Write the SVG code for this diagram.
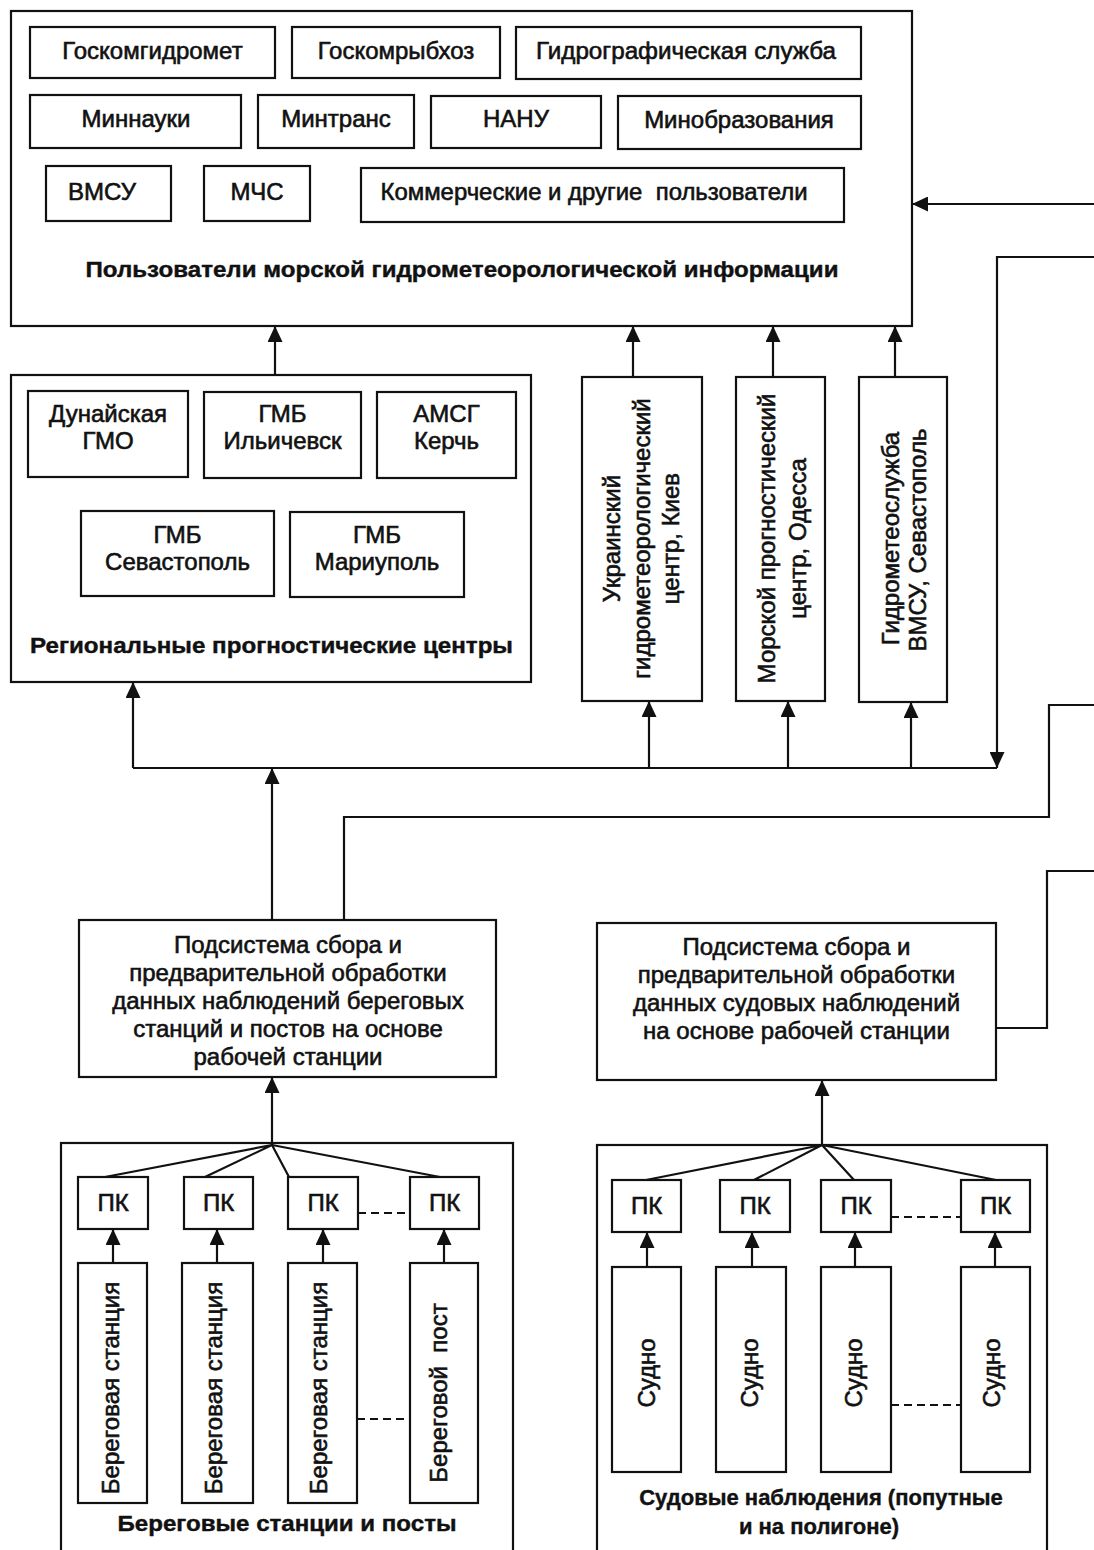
<svg xmlns="http://www.w3.org/2000/svg" width="1094" height="1550" viewBox="0 0 1094 1550">
<defs>
<marker id="ah" viewBox="0 0 16 15" refX="16" refY="7.5" markerWidth="16" markerHeight="15" orient="auto" markerUnits="userSpaceOnUse"><path d="M0,0 L16,7.5 L0,15 Z" fill="#111"/></marker>
<style>
.box{fill:#fff;stroke:#111;stroke-width:2.2}
.cont{fill:none;stroke:#111;stroke-width:2.2}
.ln{fill:none;stroke:#111;stroke-width:2.2}
.arr{marker-end:url(#ah)}
.dash{stroke-dasharray:8 5}
text{font-family:"Liberation Sans",Arial,"Noto Sans",sans-serif;font-size:24px;fill:#111;stroke:#111;stroke-width:0.6;text-anchor:middle}
.b{font-weight:bold;font-size:22px;stroke-width:0.4}
</style>
</defs>
<rect width="1094" height="1550" fill="#fff"/>

<g id="users">
<rect class="cont" x="11" y="11" width="901" height="315"/>
<text class="b" x="462" y="277" textLength="753" lengthAdjust="spacingAndGlyphs">Пользователи морской гидрометеорологической информации</text>
</g>
<g id="goskomgidromet"><rect class="box" x="30" y="27" width="245" height="51"/><text x="152.5" y="59">Госкомгидромет</text></g>
<g id="goskomrybkhoz"><rect class="box" x="292" y="27" width="208" height="51"/><text x="396" y="59">Госкомрыбхоз</text></g>
<g id="gidrograf"><rect class="box" x="516" y="27" width="345" height="52"/><text x="686" y="59" textLength="300" lengthAdjust="spacingAndGlyphs">Гидрографическая служба</text></g>
<g id="minnauki"><rect class="box" x="30" y="95" width="211" height="53"/><text x="136" y="127">Миннауки</text></g>
<g id="mintrans"><rect class="box" x="258" y="95" width="156" height="53"/><text x="336" y="127">Минтранс</text></g>
<g id="nanu"><rect class="box" x="431" y="96" width="170" height="52"/><text x="516" y="127">НАНУ</text></g>
<g id="minobr"><rect class="box" x="618" y="96" width="243" height="53"/><text x="739" y="128">Минобразования</text></g>
<g id="vmsu"><rect class="box" x="46" y="166" width="125" height="55"/><text x="102" y="200">ВМСУ</text></g>
<g id="mchs"><rect class="box" x="204" y="166" width="106" height="55"/><text x="257" y="200">МЧС</text></g>
<g id="commercial"><rect class="box" x="361" y="168" width="483" height="54"/><text x="594" y="200" xml:space="preserve" textLength="427" lengthAdjust="spacingAndGlyphs">Коммерческие и другие  пользователи</text></g>

<g id="regional">
<rect class="cont" x="11" y="375" width="520" height="307"/>
<text class="b" x="271.5" y="653" textLength="483" lengthAdjust="spacingAndGlyphs">Региональные прогностические центры</text>
</g>
<g id="dunai"><rect class="box" x="28" y="391" width="160" height="86"/><text x="108"><tspan x="108" y="422">Дунайская</tspan><tspan x="108" y="449">ГМО</tspan></text></g>
<g id="ilichevsk"><rect class="box" x="204" y="392" width="157" height="86"/><text x="282.5"><tspan x="282.5" y="422">ГМБ</tspan><tspan x="282.5" y="449">Ильичевск</tspan></text></g>
<g id="kerch"><rect class="box" x="377" y="392" width="139" height="86"/><text x="446.5"><tspan x="446.5" y="422">АМСГ</tspan><tspan x="446.5" y="449">Керчь</tspan></text></g>
<g id="sevastopol"><rect class="box" x="81" y="511" width="193" height="85"/><text x="177.5"><tspan x="177.5" y="543">ГМБ</tspan><tspan x="177.5" y="570">Севастополь</tspan></text></g>
<g id="mariupol"><rect class="box" x="290" y="512" width="174" height="85"/><text x="377"><tspan x="377" y="543">ГМБ</tspan><tspan x="377" y="570">Мариуполь</tspan></text></g>

<g id="ukr-center"><rect class="box" x="582" y="377" width="120" height="324"/>
<text transform="translate(620,538.5) rotate(-90)">Украинский</text>
<text transform="translate(650,538.5) rotate(-90)">гидрометеорологический</text>
<text transform="translate(679,538.5) rotate(-90)">центр, Киев</text></g>
<g id="odessa-center"><rect class="box" x="736" y="377" width="89" height="324"/>
<text transform="translate(774.5,538.5) rotate(-90)">Морской прогностический</text>
<text transform="translate(806,538.5) rotate(-90)">центр, Одесса</text></g>
<g id="vmsu-service"><rect class="box" x="859" y="377" width="88" height="325"/>
<text transform="translate(899,538.5) rotate(-90)">Гидрометеослужба</text>
<text transform="translate(925.5,540) rotate(-90)">ВМСУ, Севастополь</text></g>

<g id="coast-subsystem"><rect class="box" x="79" y="920" width="417" height="157"/>
<text x="288"><tspan x="288" y="953">Подсистема сбора и</tspan><tspan x="288" y="981">предварительной обработки</tspan><tspan x="288" y="1009">данных наблюдений береговых</tspan><tspan x="288" y="1037">станций и постов на основе</tspan><tspan x="288" y="1065">рабочей станции</tspan></text></g>
<g id="ship-subsystem"><rect class="box" x="597" y="923" width="399" height="157"/>
<text x="796.5"><tspan x="796.5" y="955">Подсистема сбора и</tspan><tspan x="796.5" y="983">предварительной обработки</tspan><tspan x="796.5" y="1011">данных судовых наблюдений</tspan><tspan x="796.5" y="1039">на основе рабочей станции</tspan></text></g>

<g id="coast-group"><rect class="cont" x="61" y="1143" width="452" height="420"/>
<text class="b" x="287" y="1531" textLength="339" lengthAdjust="spacingAndGlyphs">Береговые станции и посты</text></g>
<g id="ship-group"><rect class="cont" x="597" y="1145" width="450" height="420"/>
<text class="b"><tspan x="821" y="1505">Судовые наблюдения (попутные</tspan><tspan x="819" y="1534">и на полигоне)</tspan></text></g>

<g id="pk-c1"><rect class="box" x="78" y="1177" width="70" height="52"/><text x="113" y="1211">ПК</text></g>
<g id="pk-c2"><rect class="box" x="184" y="1177" width="69" height="52"/><text x="218.5" y="1211">ПК</text></g>
<g id="pk-c3"><rect class="box" x="288" y="1177" width="70" height="52"/><text x="323" y="1211">ПК</text></g>
<g id="pk-c4"><rect class="box" x="410" y="1177" width="69" height="52"/><text x="444.5" y="1211">ПК</text></g>
<g id="station-1"><rect class="box" x="78" y="1263" width="69" height="240"/><text transform="translate(118.5,1388) rotate(-90)">Береговая станция</text></g>
<g id="station-2"><rect class="box" x="182" y="1263" width="71" height="240"/><text transform="translate(222,1388) rotate(-90)">Береговая станция</text></g>
<g id="station-3"><rect class="box" x="288" y="1263" width="69" height="240"/><text transform="translate(327,1388) rotate(-90)">Береговая станция</text></g>
<g id="post-4"><rect class="box" x="410" y="1263" width="68" height="240"/><text transform="translate(447,1393) rotate(-90)" xml:space="preserve">Береговой  пост</text></g>

<g id="pk-s1"><rect class="box" x="612" y="1180" width="69" height="52"/><text x="646.5" y="1214">ПК</text></g>
<g id="pk-s2"><rect class="box" x="720" y="1180" width="70" height="52"/><text x="755" y="1214">ПК</text></g>
<g id="pk-s3"><rect class="box" x="821" y="1180" width="70" height="52"/><text x="856" y="1214">ПК</text></g>
<g id="pk-s4"><rect class="box" x="961" y="1180" width="69" height="52"/><text x="995.5" y="1214">ПК</text></g>
<g id="ship-1"><rect class="box" x="612" y="1267" width="69" height="205"/><text transform="translate(654.5,1373) rotate(-90)">Судно</text></g>
<g id="ship-2"><rect class="box" x="716" y="1267" width="70" height="205"/><text transform="translate(758,1373) rotate(-90)">Судно</text></g>
<g id="ship-3"><rect class="box" x="821" y="1267" width="70" height="205"/><text transform="translate(862,1373) rotate(-90)">Судно</text></g>
<g id="ship-4"><rect class="box" x="961" y="1267" width="69" height="205"/><text transform="translate(1000,1373) rotate(-90)">Судно</text></g>

<g id="connectors">
<path class="ln arr" d="M275,375 V326"/>
<path class="ln arr" d="M633,377 V326"/>
<path class="ln arr" d="M773,377 V326"/>
<path class="ln arr" d="M895,377 V326"/>
<path class="ln arr" d="M1094,204 H912"/>
<path class="ln arr" d="M1094,257 H997 V768"/>
<path class="ln" d="M133,768 H997"/>
<path class="ln arr" d="M133,768 V682"/>
<path class="ln arr" d="M649,768 V701"/>
<path class="ln arr" d="M788,768 V701"/>
<path class="ln arr" d="M911,768 V702"/>
<path class="ln arr" d="M272,920 V768"/>
<path class="ln" d="M344,920 V817 H1049 V705 H1094"/>
<path class="ln" d="M996,1028 H1047 V871 H1094"/>
<path class="ln arr" d="M272,1145 V1077"/>
<path class="ln" d="M272,1145 L105,1177 M272,1145 L205,1177 M272,1145 L289,1177 M272,1145 L440,1177"/>
<path class="ln arr" d="M822,1145 V1080"/>
<path class="ln" d="M822,1145 L646,1180 M822,1145 L754,1180 M822,1145 L854,1180 M822,1145 L996,1180"/>
<path class="ln arr" d="M113,1263 V1229"/>
<path class="ln arr" d="M217,1263 V1229"/>
<path class="ln arr" d="M323,1263 V1229"/>
<path class="ln arr" d="M444,1263 V1229"/>
<path class="ln arr" d="M647,1267 V1232"/>
<path class="ln arr" d="M752,1267 V1232"/>
<path class="ln arr" d="M855,1267 V1232"/>
<path class="ln arr" d="M995,1267 V1232"/>
<path class="ln dash" d="M358,1213 H410 M357,1419 H410"/>
<path class="ln dash" d="M891,1217 H961 M891,1405 H961"/>
</g>
</svg>
